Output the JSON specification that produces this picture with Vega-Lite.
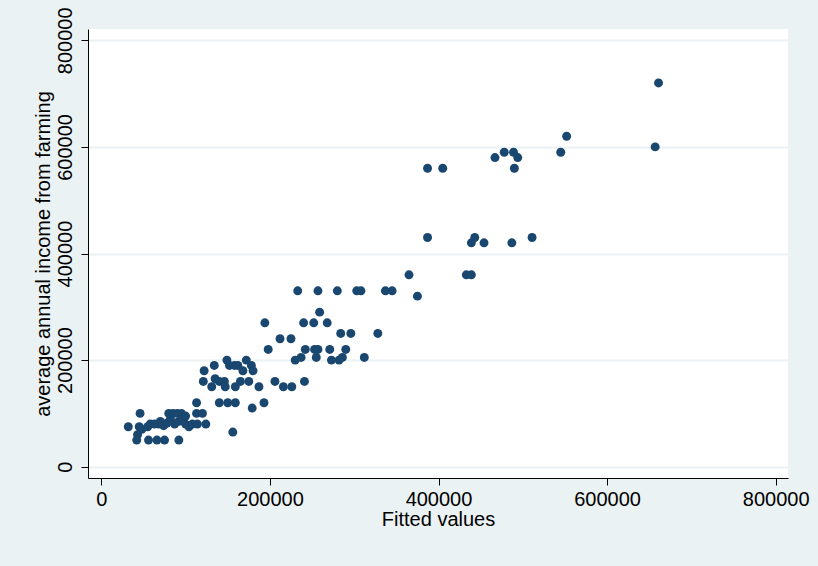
{
  "$schema": "https://vega.github.io/schema/vega-lite/v6.json",
  "width": 700,
  "height": 449,
  "autosize": {"type": "none"},
  "padding": {"left": 88, "top": 29, "right": 30, "bottom": 88},
  "background": "#EAF2F3",
  "config": {
    "view": {"stroke": null, "fill": "white"},
    "font": "Liberation Sans"
  },
  "data": {
    "values": [
      {"fitted": 32000, "income": 75000},
      {"fitted": 46000, "income": 100000},
      {"fitted": 42000, "income": 50000},
      {"fitted": 43000, "income": 60000},
      {"fitted": 45000, "income": 75000},
      {"fitted": 48000, "income": 70000},
      {"fitted": 56000, "income": 50000},
      {"fitted": 66000, "income": 50000},
      {"fitted": 75000, "income": 50000},
      {"fitted": 92000, "income": 50000},
      {"fitted": 55000, "income": 75000},
      {"fitted": 58000, "income": 80000},
      {"fitted": 63000, "income": 80000},
      {"fitted": 68000, "income": 80000},
      {"fitted": 70000, "income": 85000},
      {"fitted": 74000, "income": 77000},
      {"fitted": 78000, "income": 82000},
      {"fitted": 80000, "income": 100000},
      {"fitted": 82000, "income": 90000},
      {"fitted": 85000, "income": 100000},
      {"fitted": 87000, "income": 80000},
      {"fitted": 90000, "income": 100000},
      {"fitted": 92000, "income": 85000},
      {"fitted": 95000, "income": 100000},
      {"fitted": 96000, "income": 90000},
      {"fitted": 100000, "income": 80000},
      {"fitted": 100000, "income": 95000},
      {"fitted": 104000, "income": 75000},
      {"fitted": 108000, "income": 80000},
      {"fitted": 113000, "income": 100000},
      {"fitted": 114000, "income": 80000},
      {"fitted": 120000, "income": 100000},
      {"fitted": 124000, "income": 80000},
      {"fitted": 113000, "income": 120000},
      {"fitted": 122000, "income": 180000},
      {"fitted": 134000, "income": 190000},
      {"fitted": 149000, "income": 200000},
      {"fitted": 152000, "income": 190000},
      {"fitted": 158000, "income": 190000},
      {"fitted": 162000, "income": 190000},
      {"fitted": 172000, "income": 200000},
      {"fitted": 178000, "income": 190000},
      {"fitted": 168000, "income": 180000},
      {"fitted": 180000, "income": 180000},
      {"fitted": 121000, "income": 160000},
      {"fitted": 131000, "income": 150000},
      {"fitted": 135000, "income": 165000},
      {"fitted": 140000, "income": 160000},
      {"fitted": 146000, "income": 160000},
      {"fitted": 147000, "income": 150000},
      {"fitted": 159000, "income": 150000},
      {"fitted": 165000, "income": 160000},
      {"fitted": 175000, "income": 160000},
      {"fitted": 187000, "income": 150000},
      {"fitted": 140000, "income": 120000},
      {"fitted": 150000, "income": 120000},
      {"fitted": 159000, "income": 120000},
      {"fitted": 179000, "income": 110000},
      {"fitted": 193000, "income": 120000},
      {"fitted": 156000, "income": 65000},
      {"fitted": 194000, "income": 270000},
      {"fitted": 206000, "income": 160000},
      {"fitted": 216000, "income": 150000},
      {"fitted": 226000, "income": 150000},
      {"fitted": 241000, "income": 160000},
      {"fitted": 198000, "income": 220000},
      {"fitted": 212000, "income": 240000},
      {"fitted": 225000, "income": 240000},
      {"fitted": 230000, "income": 200000},
      {"fitted": 237000, "income": 205000},
      {"fitted": 242000, "income": 220000},
      {"fitted": 253000, "income": 220000},
      {"fitted": 257000, "income": 220000},
      {"fitted": 255000, "income": 205000},
      {"fitted": 271000, "income": 220000},
      {"fitted": 290000, "income": 220000},
      {"fitted": 273000, "income": 200000},
      {"fitted": 282000, "income": 200000},
      {"fitted": 286000, "income": 205000},
      {"fitted": 312000, "income": 205000},
      {"fitted": 284000, "income": 250000},
      {"fitted": 296000, "income": 250000},
      {"fitted": 328000, "income": 250000},
      {"fitted": 240000, "income": 270000},
      {"fitted": 252000, "income": 270000},
      {"fitted": 268000, "income": 270000},
      {"fitted": 259000, "income": 290000},
      {"fitted": 233000, "income": 330000},
      {"fitted": 257000, "income": 330000},
      {"fitted": 280000, "income": 330000},
      {"fitted": 303000, "income": 330000},
      {"fitted": 308000, "income": 330000},
      {"fitted": 337000, "income": 330000},
      {"fitted": 345000, "income": 330000},
      {"fitted": 365000, "income": 360000},
      {"fitted": 375000, "income": 320000},
      {"fitted": 433000, "income": 360000},
      {"fitted": 439000, "income": 360000},
      {"fitted": 387000, "income": 430000},
      {"fitted": 439000, "income": 420000},
      {"fitted": 443000, "income": 430000},
      {"fitted": 454000, "income": 420000},
      {"fitted": 487000, "income": 420000},
      {"fitted": 511000, "income": 430000},
      {"fitted": 387000, "income": 560000},
      {"fitted": 405000, "income": 560000},
      {"fitted": 467000, "income": 580000},
      {"fitted": 478000, "income": 590000},
      {"fitted": 489000, "income": 590000},
      {"fitted": 494000, "income": 580000},
      {"fitted": 490000, "income": 560000},
      {"fitted": 545000, "income": 590000},
      {"fitted": 552000, "income": 620000},
      {"fitted": 657000, "income": 600000},
      {"fitted": 661000, "income": 720000}
    ]
  },
  "mark": {"type": "point", "filled": true, "shape": "circle", "size": 80, "opacity": 1, "color": "#1A476F"},
  "encoding": {
    "x": {
      "field": "fitted",
      "type": "quantitative",
      "title": "Fitted values",
      "scale": {"domain": [-15780, 814590], "nice": false, "zero": false},
      "axis": {
        "values": [0, 200000, 400000, 600000, 800000],
        "format": "d",
        "grid": false,
        "domainColor": "black",
        "domainWidth": 1,
        "tickColor": "black",
        "tickWidth": 1,
        "tickSize": 7,
        "labelFontSize": 20,
        "labelColor": "black",
        "labelPadding": 4,
        "labelFlush": false,
        "labelOverlap": false,
        "titleFontSize": 20,
        "titleFontWeight": "normal",
        "titleColor": "black",
        "titlePadding": 0
      }
    },
    "y": {
      "field": "income",
      "type": "quantitative",
      "title": "average annual income from farming",
      "scale": {"domain": [-21200, 821200], "nice": false, "zero": false},
      "axis": {
        "values": [0, 200000, 400000, 600000, 800000],
        "format": "d",
        "grid": true,
        "gridColor": "#EAF2F3",
        "gridWidth": 2,
        "domainColor": "black",
        "domainWidth": 1,
        "tickColor": "black",
        "tickWidth": 1,
        "tickSize": 7,
        "labelFontSize": 20,
        "labelColor": "black",
        "labelAngle": -90,
        "labelAlign": "center",
        "labelBaseline": "alphabetic",
        "labelPadding": 10,
        "labelFlush": false,
        "labelOverlap": false,
        "titleFontSize": 20,
        "titleFontWeight": "normal",
        "titleColor": "black",
        "titlePadding": 2
      }
    }
  }
}
